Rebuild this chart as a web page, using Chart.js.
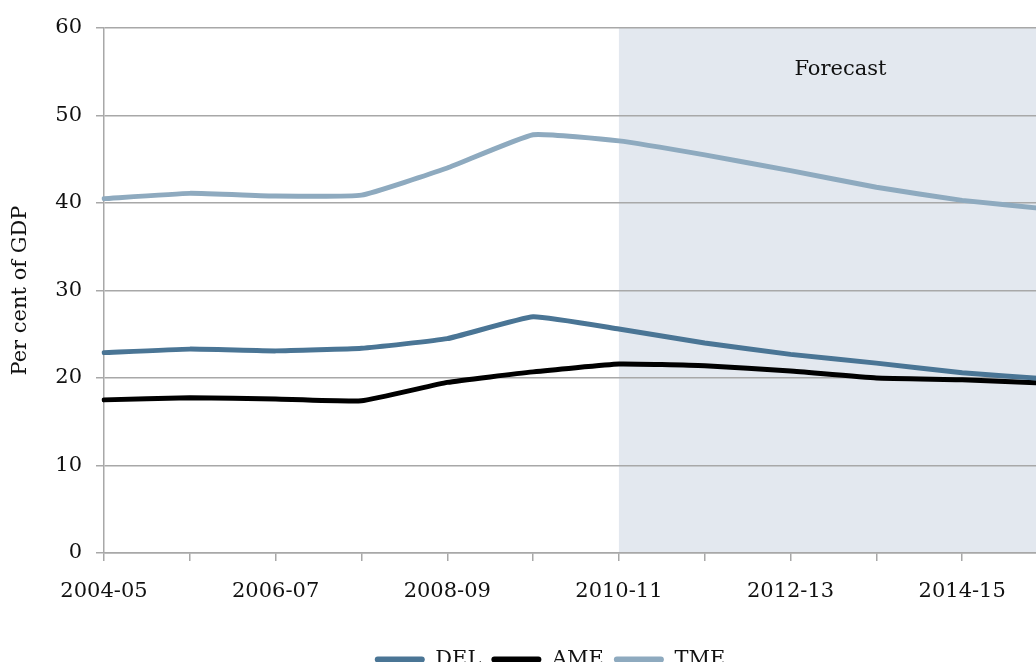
<!DOCTYPE html>
<html>
<head>
<meta charset="utf-8">
<title>Public spending, per cent of GDP</title>
<script src="https://cdn.jsdelivr.net/npm/chart.js@4/dist/chart.umd.min.js"></script>
<style>
  html, body { margin: 0; padding: 0; background: #fff; overflow: hidden; }
  canvas { display: block; }
</style>
</head>
<body>
<canvas id="chart" width="1100" height="680"></canvas>
<script>
// Financial years on the category axis
const years = ['2004-05', '2005-06', '2006-07', '2007-08', '2008-09', '2009-10',
               '2010-11', '2011-12', '2012-13', '2013-14', '2014-15', '2015-16'];
// Departmental expenditure limits
const del = [22.9, 23.3, 23.1, 23.4, 24.5, 27.0, 25.6, 24.0, 22.7, 21.7, 20.6, 19.9];
// Annually managed expenditure
const ame = [17.5, 17.75, 17.6, 17.4, 19.5, 20.7, 21.6, 21.4, 20.8, 20.0, 19.8, 19.4];
// Total managed expenditure
const tme = [40.5, 41.1, 40.8, 40.9, 44.0, 47.8, 47.1, 45.5, 43.7, 41.8, 40.3, 39.3];
// First forecast year
const forecastStart = '2010-11';
const yTicks = [0, 10, 20, 30, 40, 50, 60];

const FONT = 'DejaVu Serif';
const GRID = '#a8a8a8';

// Shaded forecast band with its caption, painted under the grid
const forecastBand = {
  id: 'forecastBand',
  beforeDraw(chart) {
    const { ctx, chartArea, scales } = chart;
    const x0 = scales.x.getPixelForValue(years.indexOf(forecastStart));
    ctx.save();
    ctx.fillStyle = '#e3e8ef';
    ctx.fillRect(x0, chartArea.top, chart.width - x0, chartArea.bottom - chartArea.top);
    ctx.fillStyle = '#111';
    ctx.font = '21px "' + FONT + '"';
    ctx.textAlign = 'center';
    ctx.textBaseline = 'middle';
    ctx.fillText('Forecast', (x0 + chart.width - 38) / 2, chartArea.top + 42);
    ctx.restore();
  }
};

new Chart(document.getElementById('chart'), {
  type: 'line',
  data: {
    labels: years,
    datasets: [
      { label: 'DEL', data: del, borderColor: '#4a7595', backgroundColor: '#4a7595' },
      { label: 'AME', data: ame, borderColor: '#000000', backgroundColor: '#000000' },
      { label: 'TME', data: tme, borderColor: '#8eaabf', backgroundColor: '#8eaabf' }
    ]
  },
  options: {
    responsive: false,
    animation: false,
    layout: { padding: { top: 28, left: 0, right: 0, bottom: 0 } },
    elements: {
      line: { borderWidth: 5, tension: 0.12, borderCapStyle: 'round', borderJoinStyle: 'round' },
      point: { radius: 0 }
    },
    scales: {
      x: {
        offset: false,
        grid: { drawOnChartArea: false, color: GRID, lineWidth: 1.5, tickLength: 8 },
        border: { color: GRID, width: 1.5 },
        ticks: {
          autoSkip: false,
          maxRotation: 0,
          padding: 18,
          color: '#111',
          font: { family: FONT, size: 21 },
          callback: (v, i) => (i % 2 === 0 ? years[i] : '')
        },
        afterFit: s => { s.height = 86; }
      },
      y: {
        min: 0,
        max: 60,
        afterBuildTicks: s => { s.ticks = yTicks.map(v => ({ value: v })); },
        grid: { color: GRID, lineWidth: 1.5, tickLength: 8 },
        border: { color: GRID, width: 1.5 },
        ticks: { padding: 14, color: '#111', font: { family: FONT, size: 21 } },
        title: {
          display: true,
          text: 'Per cent of GDP',
          color: '#111',
          font: { family: FONT, size: 21 },
          padding: { top: 8, bottom: 10 }
        },
        afterFit: s => { s.width = 104; }
      },
      yRight: {
        position: 'right',
        display: true,
        grid: { display: false },
        border: { display: false },
        ticks: { display: false },
        afterFit: s => { s.width = 52; }
      }
    },
    plugins: {
      tooltip: { enabled: false },
      legend: {
        position: 'bottom',
        labels: {
          color: '#111',
          font: { family: FONT, size: 21 },
          boxWidth: 50,
          boxHeight: 6,
          useBorderRadius: true,
          borderRadius: 3,
          padding: 10,
          generateLabels: chart =>
            Chart.defaults.plugins.legend.labels.generateLabels(chart)
              .map(l => Object.assign(l, { lineWidth: 0 }))
        }
      }
    }
  },
  plugins: [forecastBand]
});
</script>
</body>
</html>
